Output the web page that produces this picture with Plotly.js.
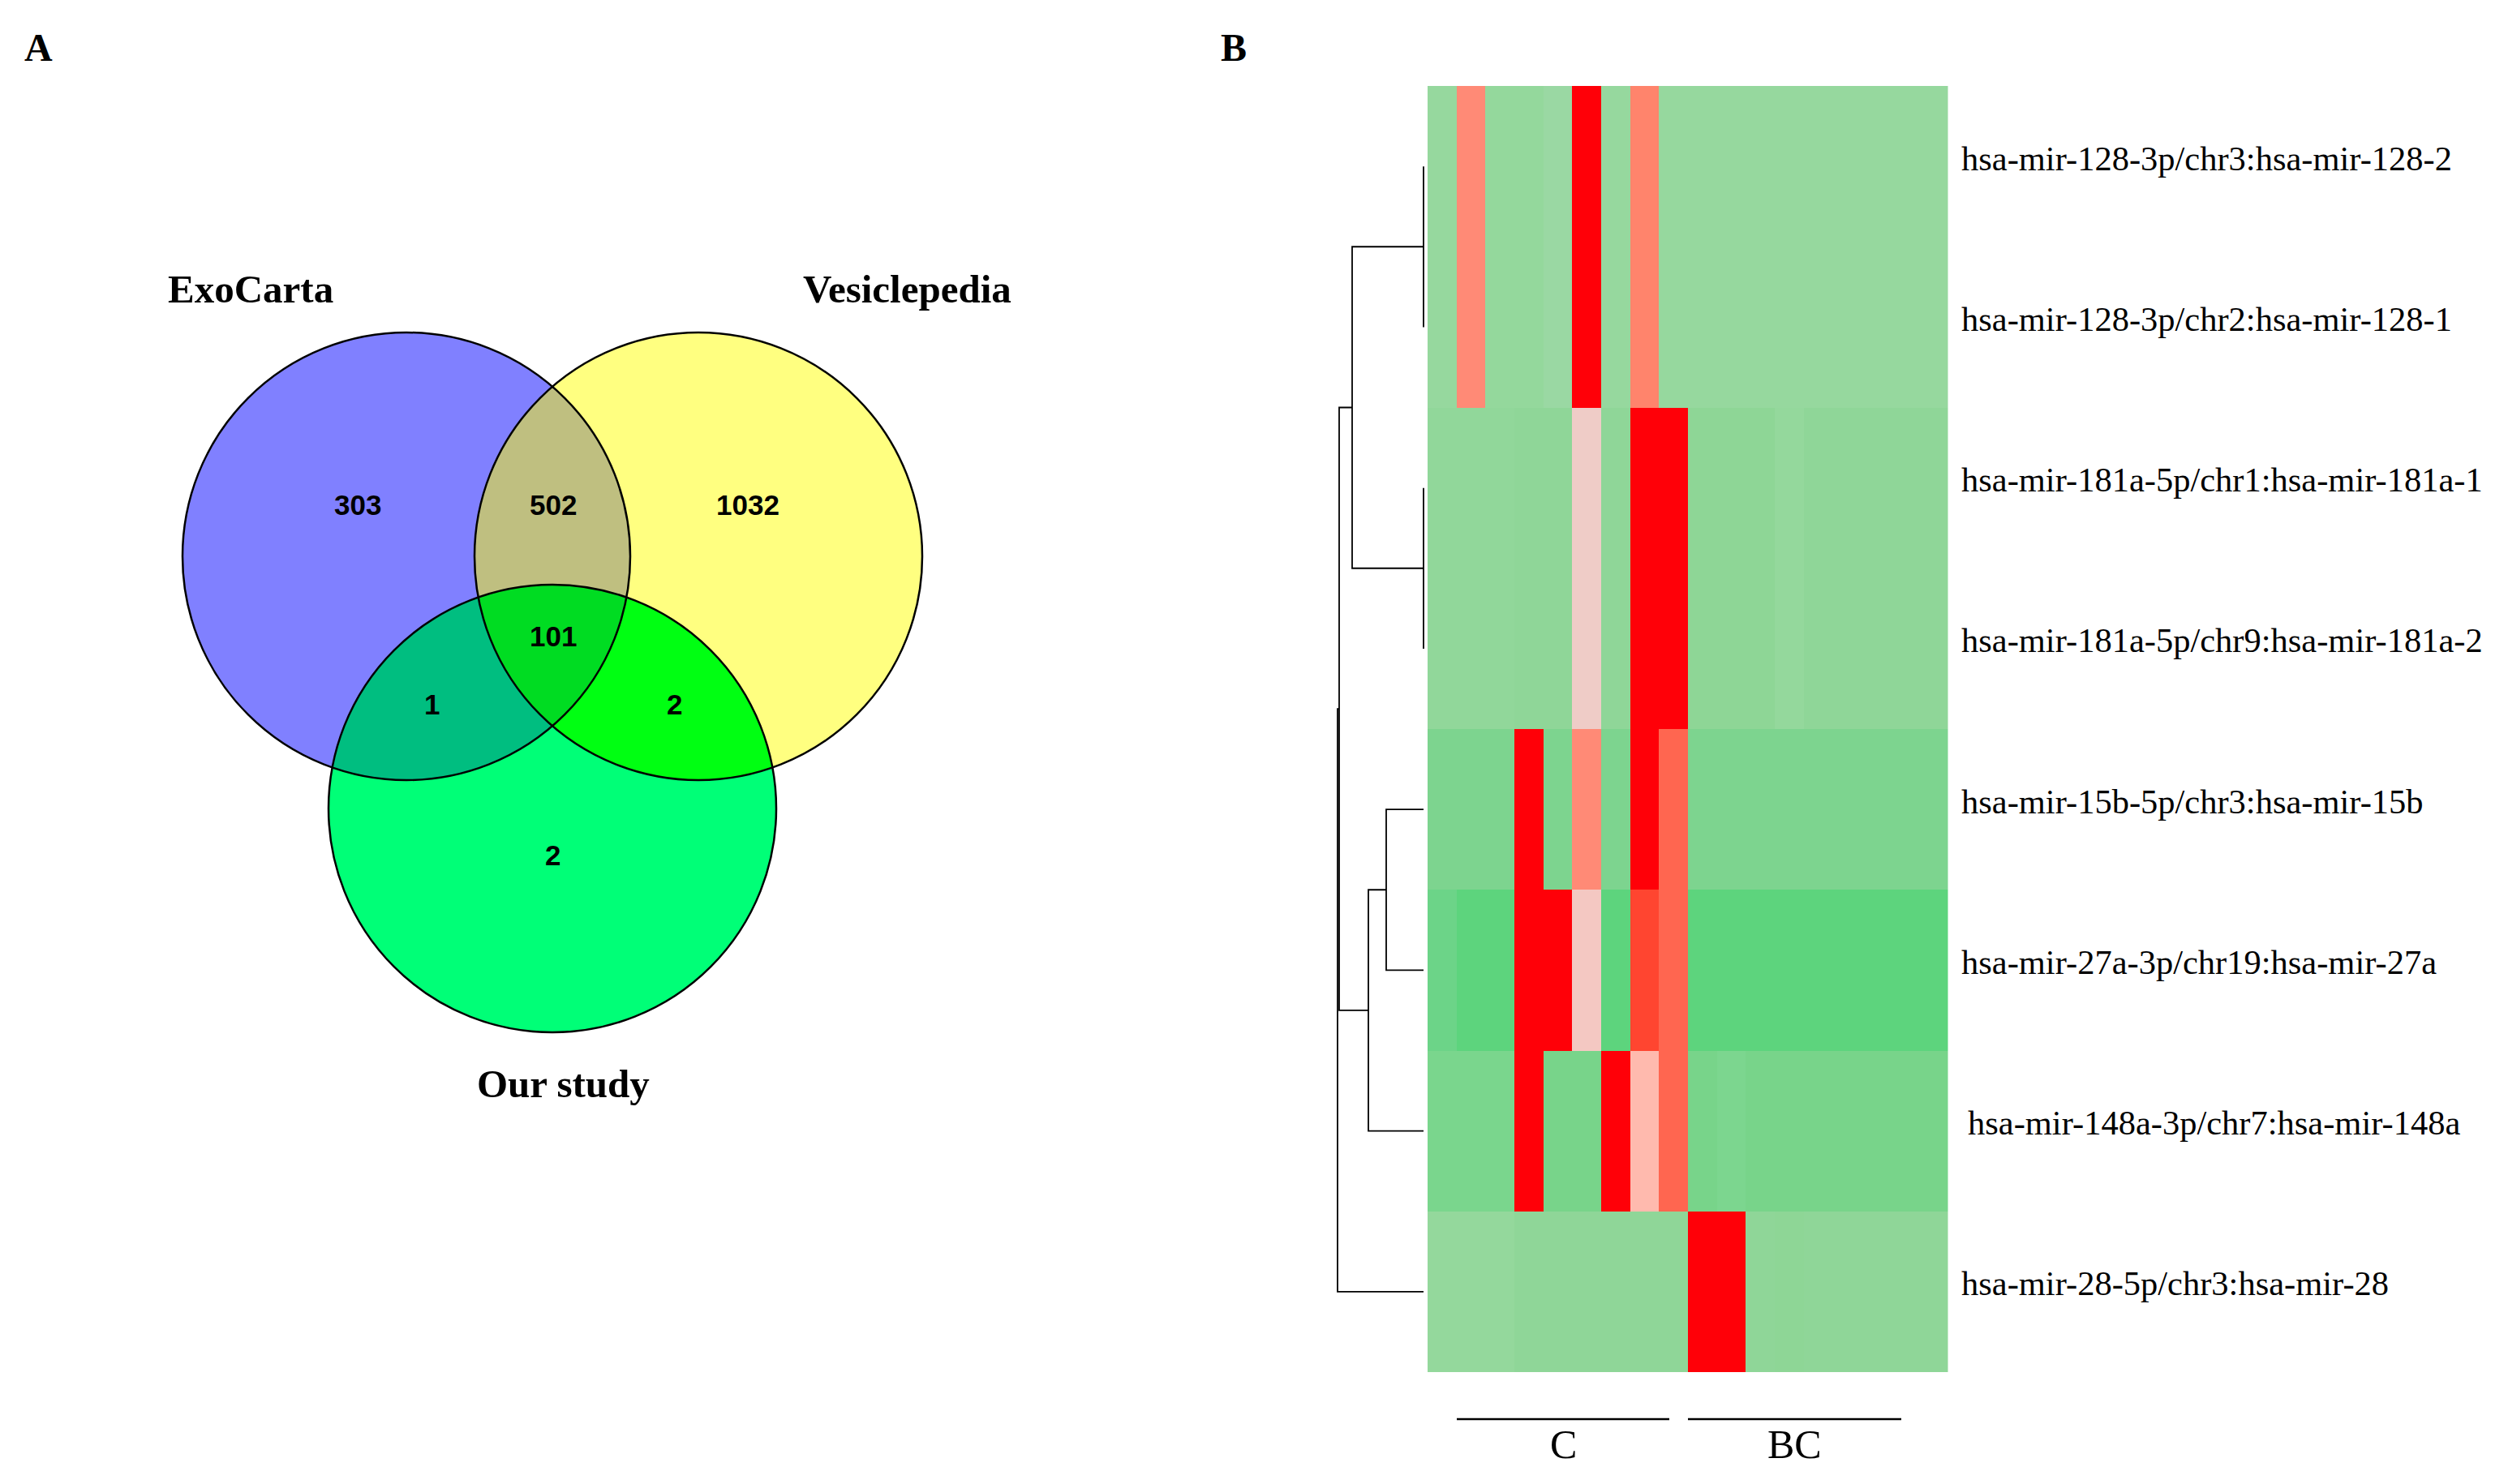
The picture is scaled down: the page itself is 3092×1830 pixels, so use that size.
<!DOCTYPE html>
<html><head><meta charset="utf-8">
<script src="https://cdn.plot.ly/plotly-3.0.1.min.js"></script>
<style>html,body{margin:0;padding:0;background:#fff}#chart{width:3092px;height:1830px}</style>
</head><body><div id="chart"></div>
<script>
// ================= DATA =================
// Panel A : Venn diagram
const setNames = ['ExoCarta', 'Vesiclepedia', 'Our study'];
const regionKeys = ['A', 'B', 'C', 'AB', 'AC', 'BC', 'ABC'];
const regionCounts = [303, 1032, 2, 502, 1, 2, 101];

// Panel B : heatmap
const mirnaLabels = [
  'hsa-mir-128-3p/chr3:hsa-mir-128-2',
  'hsa-mir-128-3p/chr2:hsa-mir-128-1',
  'hsa-mir-181a-5p/chr1:hsa-mir-181a-1',
  'hsa-mir-181a-5p/chr9:hsa-mir-181a-2',
  'hsa-mir-15b-5p/chr3:hsa-mir-15b',
  'hsa-mir-27a-3p/chr19:hsa-mir-27a',
  'hsa-mir-148a-3p/chr7:hsa-mir-148a',
  'hsa-mir-28-5p/chr3:hsa-mir-28'
];
const sampleIds = ['1','2','3','4','5','6','7','8','9','10','11','12','13','14','15','16','17','18'];
const groupLabels = ['C', 'BC'];

const mir128_2  = [24, 65, 22, 22, 26, 100, 24, 68, 24, 24, 24, 24, 24, 24, 24, 24, 24, 24];
const mir128_1  = [24, 65, 22, 22, 26, 100, 24, 68, 24, 24, 24, 24, 24, 24, 24, 24, 24, 24];
const mir181a_1 = [21, 21, 21, 20, 20, 45, 20, 100, 100, 19, 19, 19, 22, 20, 20, 20, 20, 20];
const mir181a_2 = [21, 21, 21, 20, 20, 45, 20, 100, 100, 19, 19, 19, 22, 20, 20, 20, 20, 20];
const mir15b    = [14, 14, 14, 100, 14, 65, 14, 100, 75, 14, 14, 14, 14, 14, 14, 14, 14, 14];
const mir27a    = [5, 0, 0, 100, 100, 48, 0, 85, 75, 0, 0, 0, 0, 0, 0, 0, 0, 0];
const mir148a   = [12, 12, 12, 100, 10, 10, 100, 55, 75, 10, 13, 10, 10, 10, 10, 10, 10, 10];
const mir28     = [22, 22, 22, 20, 20, 20, 20, 20, 20, 100, 100, 20, 19, 20, 20, 20, 20, 20];

// hierarchical clustering of the rows (scipy-like linkage; leaves 0..7, new clusters 8..)
const linkLeft   = [0, 2, 8, 4, 11, 10, 13];
const linkRight  = [1, 3, 9, 5, 6, 12, 7];
const linkHeight = [0, 0, 88, 46, 68, 104, 106];

// ================= STYLE / LAYOUT =================
const W = 3092, H = 1830;
const SERIF = 'Liberation Serif, Times New Roman, serif';
const SANS = 'Liberation Sans, Arial, sans-serif';

const vennR = 276;
const vennCenters = [[501, 686], [861, 686], [681, 997]];
const regionColors = {A:'#8080FF', B:'#FFFF80', C:'#00FF77', AB:'#BFBF80', AC:'#00BE80', BC:'#00FF12', ABC:'#00DC22'};
const regionLabelPos = {A:[441, 622], B:[922, 622], C:[681, 1054], AB:[682, 622], AC:[532, 868], BC:[831, 868], ABC:[682, 784]};
const setLabelPos = [[309, 356], [1118, 356], [694, 1336]];

const heatLeft = 1760, heatRight = 2401.5, heatTop = 106, heatBottom = 1692;
const dendroSpan = 160, leafX = 1755, dendroPad = 4;

const colorscale = [
  [0.00, '#5DD47D'], [0.05, '#6CD488'], [0.10, '#78D48A'], [0.12, '#7AD68D'],
  [0.13, '#7CD68F'], [0.14, '#7DD48F'], [0.19, '#8ED696'], [0.20, '#8FD698'],
  [0.21, '#91D79A'], [0.22, '#94D89C'], [0.24, '#96D89E'], [0.26, '#9AD8A3'],
  [0.45, '#EFCCC7'], [0.48, '#F4C8C2'], [0.55, '#FFBAAE'], [0.65, '#FF8A76'],
  [0.68, '#FF846C'], [0.75, '#FF6650'], [0.85, '#FF4530'], [1.00, '#FF0008']
];

// ================= BUILD =================
const traces = [];
const shapes = [];
const annotations = [];

function inside(p, idx) { const c = vennCenters[idx]; return Math.hypot(p[0]-c[0], p[1]-c[1]) <= vennR + 1e-6; }
function regionPolygon(idxs) {
  const pts = [];
  const N = 1440;
  idxs.forEach(i => {
    const c = vennCenters[i];
    for (let k = 0; k < N; k++) {
      const t = 2 * Math.PI * k / N;
      const p = [c[0] + vennR * Math.cos(t), c[1] + vennR * Math.sin(t)];
      if (idxs.every(j => j === i || inside(p, j))) pts.push(p);
    }
  });
  const cx = pts.reduce((s, p) => s + p[0], 0) / pts.length;
  const cy = pts.reduce((s, p) => s + p[1], 0) / pts.length;
  pts.sort((a, b) => Math.atan2(a[1]-cy, a[0]-cx) - Math.atan2(b[1]-cy, b[0]-cx));
  pts.push(pts[0]);
  return pts;
}
const keyIdx = {A:0, B:1, C:2};
const paintOrder = ['A', 'B', 'C', 'AB', 'AC', 'BC', 'ABC'];
paintOrder.forEach(key => {
  const idxs = key.split('').map(ch => keyIdx[ch]);
  const poly = regionPolygon(idxs);
  traces.push({
    type: 'scatter', mode: 'lines', xaxis: 'x', yaxis: 'y',
    x: poly.map(p => p[0]), y: poly.map(p => p[1]),
    fill: 'toself', fillcolor: regionColors[key], line: {width: 0, color: regionColors[key]},
    hoverinfo: 'skip', showlegend: false
  });
});
vennCenters.forEach(c => {
  shapes.push({type: 'circle', xref: 'x', yref: 'y', x0: c[0]-vennR, x1: c[0]+vennR, y0: c[1]-vennR, y1: c[1]+vennR,
    line: {color: '#000', width: 2.5}, fillcolor: 'rgba(0,0,0,0)', layer: 'above'});
});
regionKeys.forEach((key, i) => {
  const p = regionLabelPos[key];
  annotations.push({xref: 'x', yref: 'y', x: p[0], y: p[1], text: '<b>' + regionCounts[i] + '</b>', showarrow: false,
    xanchor: 'center', yanchor: 'middle', font: {family: SANS, size: 35, color: '#000'}});
});
setNames.forEach((n, i) => {
  annotations.push({xref: 'x', yref: 'y', x: setLabelPos[i][0], y: setLabelPos[i][1], text: '<b>' + n + '</b>', showarrow: false,
    xanchor: 'center', yanchor: 'middle', font: {family: SERIF, size: 49, color: '#000'}});
});
// panel letters
annotations.push({xref: 'x', yref: 'y', x: 47, y: 58, text: '<b>A</b>', showarrow: false, xanchor: 'center', yanchor: 'middle', font: {family: SERIF, size: 48, color: '#000'}});
annotations.push({xref: 'x', yref: 'y', x: 1521, y: 58, text: '<b>B</b>', showarrow: false, xanchor: 'center', yanchor: 'middle', font: {family: SERIF, size: 48, color: '#000'}});

// heatmap
const zRows = [mir128_2, mir128_1, mir181a_1, mir181a_2, mir15b, mir27a, mir148a, mir28];
traces.push({
  type: 'heatmap', xaxis: 'x2', yaxis: 'y2',
  z: zRows, x: sampleIds.map((s, i) => i), y: mirnaLabels.map((s, i) => i),
  zmin: 0, zmax: 100, colorscale: colorscale, showscale: false, hoverinfo: 'skip', zsmooth: false
});
mirnaLabels.forEach((lab, i) => {
  annotations.push({xref: 'paper', yref: 'y2', x: (2416 + (i === 6 ? 8 : 0)) / W, y: i, yshift: 10, text: lab, showarrow: false,
    xanchor: 'left', yanchor: 'middle', font: {family: SERIF, size: 42.5, color: '#000'}});
});

// dendrogram
const pos = {}, ht = {};
for (let i = 0; i < mirnaLabels.length; i++) { pos[i] = i; ht[i] = 0; }
const dx = [], dy = [];
linkLeft.forEach((a, k) => {
  const b = linkRight[k], h = linkHeight[k], id = mirnaLabels.length + k;
  dx.push(ht[a], h, h, ht[b], null);
  dy.push(pos[a], pos[a], pos[b], pos[b], null);
  pos[id] = (pos[a] + pos[b]) / 2; ht[id] = h;
});
traces.push({type: 'scatter', mode: 'lines', xaxis: 'x3', yaxis: 'y2', x: dx, y: dy,
  line: {color: '#000', width: 1.8}, hoverinfo: 'skip', showlegend: false, connectgaps: false});

// group brackets
const groupLines = [[1796, 2058], [2081, 2344]];
groupLabels.forEach((g, i) => {
  const [a, b] = groupLines[i];
  shapes.push({type: 'line', xref: 'x', yref: 'y', x0: a, x1: b, y0: 1750, y1: 1750, line: {color: '#000', width: 2.5}});
  annotations.push({xref: 'x', yref: 'y', x: (a + b) / 2, y: 1781, text: g, showarrow: false, xanchor: 'center', yanchor: 'middle',
    font: {family: SERIF, size: 50, color: '#000'}});
});

const hidden = {visible: false, showgrid: false, zeroline: false, fixedrange: true};
const layout = {
  width: W, height: H, margin: {l: 0, r: 0, t: 0, b: 0, pad: 0},
  paper_bgcolor: '#fff', plot_bgcolor: 'rgba(0,0,0,0)', showlegend: false,
  xaxis: Object.assign({domain: [0, 1], range: [0, W], anchor: 'y'}, hidden),
  yaxis: Object.assign({domain: [0, 1], range: [H, 0], anchor: 'x'}, hidden),
  xaxis2: Object.assign({domain: [heatLeft / W, heatRight / W], range: [-0.5, sampleIds.length - 0.5], anchor: 'y2'}, hidden),
  yaxis2: Object.assign({domain: [1 - heatBottom / H, 1 - heatTop / H], range: [mirnaLabels.length - 0.5, -0.5], anchor: 'x2'}, hidden),
  xaxis3: Object.assign({domain: [(leafX - dendroSpan) / W, (leafX + dendroPad) / W], range: [dendroSpan, -dendroPad], anchor: 'y2'}, hidden),
  shapes: shapes, annotations: annotations
};
Plotly.newPlot('chart', traces, layout, {staticPlot: true, displayModeBar: false});
</script></body></html>
